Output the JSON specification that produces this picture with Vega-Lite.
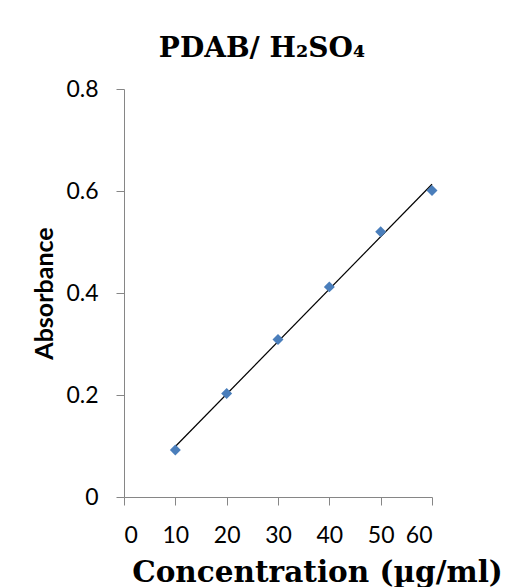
{
  "$schema": "https://vega.github.io/schema/vega-lite/v6.json",
  "autosize": {"type": "none"},
  "width": 308,
  "height": 408,
  "padding": {"left": 124, "top": 89, "right": 82, "bottom": 90},
  "background": "white",
  "title": {
    "text": "PDAB/ H₂SO₄",
    "font": "DejaVu Serif",
    "fontSize": 28,
    "fontWeight": "bold",
    "color": "black",
    "anchor": "middle",
    "frame": "group",
    "baseline": "alphabetic",
    "dx": -16,
    "dy": 3,
    "offset": -4
  },
  "data": {
    "values": [
      {"conc": 10, "abs": 0.092},
      {"conc": 20, "abs": 0.203},
      {"conc": 30, "abs": 0.309},
      {"conc": 40, "abs": 0.412},
      {"conc": 50, "abs": 0.520},
      {"conc": 60, "abs": 0.601}
    ]
  },
  "config": {
    "view": {"stroke": null},
    "axis": {
      "grid": false,
      "domainColor": "#868686",
      "tickColor": "#868686",
      "tickSize": 8,
      "labelFont": "Lato",
      "labelFontSize": 23,
      "labelColor": "black"
    }
  },
  "layer": [
    {
      "transform": [{"regression": "abs", "on": "conc", "method": "linear", "extent": [10, 60]}],
      "mark": {"type": "line", "color": "black", "strokeWidth": 1.2},
      "encoding": {
        "x": {"field": "conc", "type": "quantitative"},
        "y": {"field": "abs", "type": "quantitative"}
      }
    },
    {
      "mark": {"type": "point", "shape": "diamond", "filled": true, "color": "#4a7ebb", "opacity": 1, "size": 120},
      "encoding": {
        "x": {
          "field": "conc",
          "type": "quantitative",
          "scale": {"domain": [0, 60], "nice": false, "zero": true},
          "axis": {
            "values": [0, 10, 20, 30, 40, 50, 60],
            "labelPadding": 19,
            "title": "Concentration (µg/ml)",
            "titleFont": "DejaVu Serif",
            "titleFontSize": 29.5,
            "titleFontWeight": "bold",
            "titleColor": "black",
            "titleBaseline": "alphabetic",
            "titleAlign": "center",
            "titleX": 193,
            "titleY": 84
          }
        },
        "y": {
          "field": "abs",
          "type": "quantitative",
          "scale": {"domain": [0, 0.8], "nice": false},
          "axis": {
            "values": [0, 0.2, 0.4, 0.6, 0.8],
            "format": "~g",
            "labelPadding": 18,
            "title": "Absorbance",
            "titleFont": "Lato",
            "titleFontSize": 25,
            "titleFontWeight": "bold",
            "titleColor": "black",
            "titleAngle": -90,
            "titleAlign": "center",
            "titleBaseline": "alphabetic",
            "titleX": -72,
            "titleY": 204
          }
        }
      }
    }
  ]
}
